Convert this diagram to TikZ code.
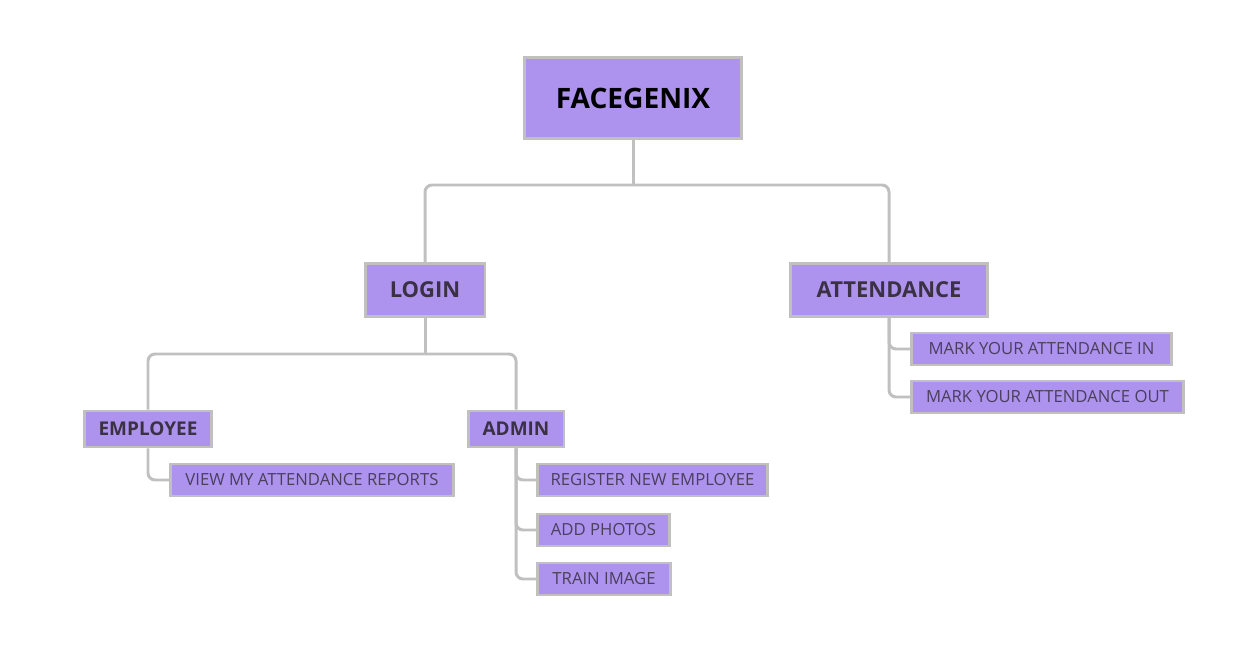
\documentclass[tikz,border=0pt]{standalone}
\usepackage{fontspec}
\setmainfont{Open Sans}
\usepackage{xcolor}
\usepackage{tikz}
\usetikzlibrary{positioning, calc}
\definecolor{boxfill}{HTML}{AE93EE}
\definecolor{boxline}{HTML}{C0C0C0}
\definecolor{midtext}{HTML}{3A3142}
\definecolor{leaftext}{HTML}{4A3F5C}
\tikzset{
  rootbox/.style={rectangle, draw=boxline, fill=boxfill, line width=1.7pt,
                  minimum width=4.34cm, minimum height=1.62cm,
                  font=\fontsize{16}{19}\selectfont\bfseries, text=black},
  secbox/.style={rectangle, draw=boxline, fill=boxfill, line width=1.7pt,
                 minimum height=1.06cm, font=\fontsize{12.5}{15}\selectfont\bfseries, text=midtext},
  subbox/.style={rectangle, draw=boxline, fill=boxfill, line width=1.7pt,
                 minimum height=0.72cm, font=\fontsize{10.8}{13}\selectfont\bfseries, text=midtext},
  leafbox/.style={rectangle, draw=boxline, fill=boxfill, line width=1.7pt, anchor=west,
                  minimum height=0.64cm, font=\fontsize{9.5}{11}\selectfont, text=leaftext},
  link/.style={draw=boxline, line width=1.7pt, rounded corners=4pt},
}

\begin{document}
\begin{tikzpicture}[x=0.02cm,y=-0.02cm]
      \useasboundingbox (0,0) rectangle (1256,671);

      % Root
      \node[rootbox] (root) at (633,98) {FACEGENIX};

      % Second level
      \node[secbox, minimum width=2.4cm] (login) at (425,290) {LOGIN};
      \node[secbox, minimum width=3.94cm] (attend) at (889,290) {ATTENDANCE};

      % Third level
      \node[subbox, minimum width=2.56cm] (employee) at (148,429) {EMPLOYEE};
      \node[subbox, minimum width=1.92cm] (admin) at (516,429) {ADMIN};

      % Leaves
      \node[leafbox, minimum width=5.66cm] (reports) at (169,480) {VIEW MY ATTENDANCE REPORTS};
      \node[leafbox, minimum width=4.6cm] (register) at (536,480) {REGISTER NEW EMPLOYEE};
      \node[leafbox, minimum width=2.64cm] (photos) at (536,530) {ADD PHOTOS};
      \node[leafbox, minimum width=2.66cm] (train) at (536,579) {TRAIN IMAGE};
      \node[leafbox, minimum width=5.2cm] (markin) at (910,349) {MARK YOUR ATTENDANCE IN};
      \node[leafbox, minimum width=5.44cm] (markout) at (910,397) {MARK YOUR ATTENDANCE OUT};

      % Junctions
      \coordinate (rootbus) at (633,185);
      \coordinate (loginbus) at (425,354);

      % Connectors
      \draw[link] (root.south) -- (rootbus);
      \draw[link] (rootbus) -| (login.north);
      \draw[link] (rootbus) -| (attend.north);

      \draw[link] (login.south) -- (loginbus);
      \draw[link] (loginbus) -| (employee.north);
      \draw[link] (loginbus) -| (admin.north);

      \draw[link] (employee.south) |- (reports.west);
      \draw[link] (admin.south) |- (register.west);
      \draw[link] (admin.south) |- (photos.west);
      \draw[link] (admin.south) |- (train.west);
      \draw[link] (attend.south) |- (markin.west);
      \draw[link] (attend.south) |- (markout.west);

\end{tikzpicture}
\end{document}
